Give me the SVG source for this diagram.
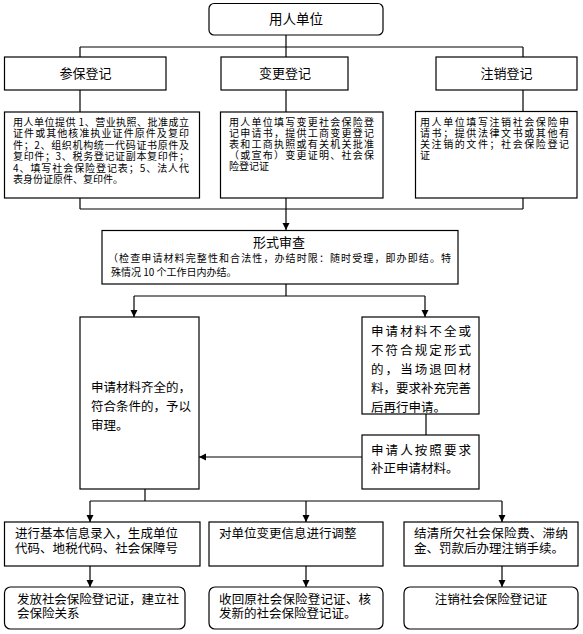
<svg xmlns="http://www.w3.org/2000/svg" width="583" height="634" viewBox="0 0 583 634">
<defs>
<style>
.b{fill:#fff;stroke:#000;stroke-width:1.2}
.l{fill:none;stroke:#000;stroke-width:1.2}
text{font-family:"Noto Sans CJK SC","Noto Sans",sans-serif;fill:#000}
.t13{font-size:13px}
.t12{font-size:12.5px}
.t10{font-size:10px}
.c{text-anchor:middle}
</style>
<marker id="ah" markerUnits="userSpaceOnUse" markerWidth="8" markerHeight="8" refX="7" refY="4" orient="auto">
<path d="M0,0.5 L7,4 L0,7.5 z" fill="#000"/>
</marker>
</defs>
<rect width="583" height="634" fill="#fff"/>

<g id="connectors">
<path class="l" d="M286,35 V47 M80,47 H523 M80,47 V57 M286,47 V57 M523,47 V57"/>
<path class="l" d="M80,90 V112 M286,90 V112 M523,90 V112"/>
<path class="l" d="M80,198 V209 M286,198 V209 M523,198 V209 M80,209 H523"/>
<path class="l" d="M286,209 V230" marker-end="url(#ah)"/>
<path class="l" d="M286,284 V296 M134,296 H425"/>
<path class="l" d="M134,296 V317" marker-end="url(#ah)"/>
<path class="l" d="M425,296 V317" marker-end="url(#ah)"/>
<path class="l" d="M426,414 V435"/>
<path class="l" d="M362,457 H199" marker-end="url(#ah)"/>
<path class="l" d="M145,489 V501 M90,501 H502"/>
<path class="l" d="M90,501 V522" marker-end="url(#ah)"/>
<path class="l" d="M306,501 V522" marker-end="url(#ah)"/>
<path class="l" d="M502,501 V522" marker-end="url(#ah)"/>
<path class="l" d="M90,566 V587" marker-end="url(#ah)"/>
<path class="l" d="M306,566 V587" marker-end="url(#ah)"/>
<path class="l" d="M502,566 V587" marker-end="url(#ah)"/>
</g>

<g id="employer">
<rect class="b" x="209" y="3.5" width="174" height="31.5" rx="5"/>
<text class="c" x="296" y="24" style="font-size:13.5px">用人单位</text>
</g>

<g id="reg-join">
<rect class="b" x="4.5" y="57" width="161.5" height="33"/>
<text class="t13 c" x="85.5" y="78">参保登记</text>
</g>
<g id="reg-change">
<rect class="b" x="221" y="57" width="127" height="33"/>
<text class="t13 c" x="285" y="78">变更登记</text>
</g>
<g id="reg-cancel">
<rect class="b" x="436" y="57" width="141" height="33"/>
<text class="t13 c" x="506.5" y="78">注销登记</text>
</g>

<g id="docs-join">
<rect class="b" x="4.5" y="112" width="195" height="86"/>
<text class="t10" x="13" y="125.8" textLength="176">用人单位提供 1、营业执照、批准成立</text>
<text class="t10" x="13" y="137.3" textLength="176">证件或其他核准执业证件原件及复印</text>
<text class="t10" x="13" y="148.8" textLength="176">件；2、组织机构统一代码证书原件及</text>
<text class="t10" x="13" y="160.3" textLength="176">复印件；3、税务登记证副本复印件；</text>
<text class="t10" x="13" y="171.8" textLength="176">4、填写社会保险登记表；5、法人代</text>
<text class="t10" x="13" y="183.3">表身份证原件、复印件。</text>
</g>
<g id="docs-change">
<rect class="b" x="220.5" y="112" width="162.5" height="86"/>
<text class="t10" x="229" y="125.8" textLength="145">用人单位填写变更社会保险登</text>
<text class="t10" x="229" y="136.8" textLength="145">记申请书，提供工商变更登记</text>
<text class="t10" x="229" y="147.8" textLength="145">表和工商执照或有关机关批准</text>
<text class="t10" x="229" y="158.8" textLength="145">（或宣布）变更证明、社会保</text>
<text class="t10" x="229" y="169.8">险登记证</text>
</g>
<g id="docs-cancel">
<rect class="b" x="415.5" y="111.5" width="161.5" height="86.5"/>
<text class="t10" x="420" y="125.5" textLength="149">用人单位填写注销社会保险申</text>
<text class="t10" x="420" y="136.5" textLength="149">请书；提供法律文书或其他有</text>
<text class="t10" x="420" y="147.5" textLength="149">关注销的文件；社会保险登记</text>
<text class="t10" x="420" y="158.5">证</text>
</g>

<g id="review">
<rect class="b" x="102" y="230.5" width="356" height="53.5"/>
<text class="t13 c" x="279" y="247">形式审查</text>
<text class="t10" x="108" y="261.5" textLength="343">（检查申请材料完整性和合法性，办结时限：随时受理，即办即结。特</text>
<text class="t10" x="111" y="275.5">殊情况 10 个工作日内办结。</text>
</g>

<g id="accept">
<rect class="b" x="80" y="317" width="119" height="172"/>
<text class="t12" x="91" y="391.5">申请材料齐全的，</text>
<text class="t12" x="91" y="410.5">符合条件的，予以</text>
<text class="t12" x="91" y="429.5">审理。</text>
</g>
<g id="reject">
<rect class="b" x="362" y="317" width="117" height="97"/>
<text class="t12" x="371" y="335.5" textLength="100">申请材料不全或</text>
<text class="t12" x="371" y="354.5" textLength="100">不符合规定形式</text>
<text class="t12" x="371" y="373.5" textLength="100">的，当场退回材</text>
<text class="t12" x="371" y="392.5" textLength="100">料，要求补充完善</text>
<text class="t12" x="371" y="411.5">后再行申请。</text>
</g>
<g id="resubmit">
<rect class="b" x="362" y="435" width="117" height="54"/>
<text class="t12" x="371" y="454.5" textLength="100">申请人按照要求</text>
<text class="t12" x="371" y="473">补正申请材料。</text>
</g>

<g id="enter-info">
<rect class="b" x="4.5" y="522" width="195.5" height="44"/>
<text class="t12" x="15" y="538" textLength="163">进行基本信息录入，生成单位</text>
<text class="t12" x="15" y="553" textLength="163">代码、地税代码、社会保障号</text>
</g>
<g id="adjust-info">
<rect class="b" x="209" y="522" width="174" height="44"/>
<text class="t12" x="219" y="538">对单位变更信息进行调整</text>
</g>
<g id="settle">
<rect class="b" x="404" y="522" width="174" height="44"/>
<text class="t12" x="414" y="538" textLength="154">结清所欠社会保险费、滞纳</text>
<text class="t12" x="414" y="553">金、罚款后办理注销手续。</text>
</g>

<g id="issue-cert">
<rect class="b" x="4.5" y="587" width="180.5" height="42" rx="6"/>
<text class="t12" x="17" y="604" textLength="162">发放社会保险登记证，建立社</text>
<text class="t12" x="17" y="618">会保险关系</text>
</g>
<g id="reissue-cert">
<rect class="b" x="209" y="587" width="174" height="42" rx="6"/>
<text class="t12" x="219" y="604" textLength="152">收回原社会保险登记证、核</text>
<text class="t12" x="219" y="618">发新的社会保险登记证。</text>
</g>
<g id="cancel-cert">
<rect class="b" x="404" y="587" width="174" height="42" rx="6"/>
<text class="t12 c" x="491" y="604">注销社会保险登记证</text>
</g>
</svg>
